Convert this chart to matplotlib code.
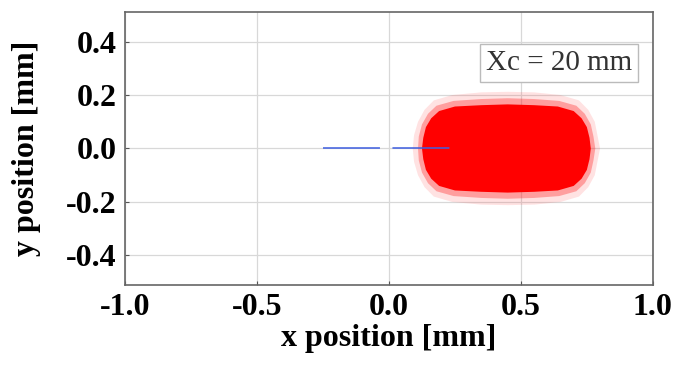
import matplotlib
matplotlib.use('Agg')
import matplotlib.pyplot as plt

# beam spot outline (dense core, mid band and faint halo), in mm
core_x = [0.125, 0.13, 0.14, 0.16, 0.19, 0.25, 0.35, 0.45, 0.55, 0.64, 0.70, 0.73, 0.75, 0.76, 0.765,
          0.76, 0.75, 0.73, 0.70, 0.64, 0.55, 0.45, 0.35, 0.25, 0.19, 0.16, 0.14, 0.13, 0.125]
core_y = [0.0, 0.04, 0.08, 0.113, 0.14, 0.157, 0.162, 0.165, 0.162, 0.157, 0.14, 0.113, 0.08, 0.04, 0.0,
          -0.04, -0.08, -0.113, -0.14, -0.157, -0.162, -0.165, -0.162, -0.157, -0.14, -0.113, -0.08, -0.04, 0.0]
mid_x = [0.11, 0.113, 0.125, 0.148, 0.18, 0.245, 0.35, 0.45, 0.55, 0.645, 0.71, 0.742, 0.765, 0.775, 0.782,
         0.775, 0.765, 0.742, 0.71, 0.645, 0.55, 0.45, 0.35, 0.245, 0.18, 0.148, 0.125, 0.113, 0.11]
mid_y = [0.0, 0.045, 0.09, 0.13, 0.16, 0.178, 0.185, 0.188, 0.185, 0.178, 0.16, 0.13, 0.09, 0.045, 0.0,
         -0.045, -0.09, -0.13, -0.16, -0.178, -0.185, -0.188, -0.185, -0.178, -0.16, -0.13, -0.09, -0.045, 0.0]
halo_x = [0.09, 0.095, 0.11, 0.135, 0.17, 0.24, 0.35, 0.45, 0.55, 0.65, 0.72, 0.755, 0.78, 0.79, 0.80,
          0.79, 0.78, 0.755, 0.72, 0.65, 0.55, 0.45, 0.35, 0.24, 0.17, 0.135, 0.11, 0.095, 0.09]
halo_y = [0.0, 0.05, 0.10, 0.145, 0.18, 0.20, 0.21, 0.212, 0.21, 0.20, 0.18, 0.145, 0.10, 0.05, 0.0,
          -0.05, -0.10, -0.145, -0.18, -0.20, -0.21, -0.212, -0.21, -0.20, -0.18, -0.145, -0.10, -0.05, 0.0]

# reference axis (blue dashed)
axis_x = [-0.25, 0.25]
axis_y = [0.0, 0.0]

xticks = [-1.0, -0.5, 0.0, 0.5, 1.0]
yticks = [-0.4, -0.2, 0.0, 0.2, 0.4]
label_text = 'Xc = 20 mm'

plt.rcParams['font.family'] = ['Liberation Serif', 'DejaVu Serif']
plt.rcParams['lines.scale_dashes'] = False

fig = plt.figure(figsize=(6.73, 3.68), dpi=100)
ax = fig.add_axes([0.186, 0.226, 0.784, 0.741])

ax.grid(True, color='#d8d8d8', linewidth=0.9)
ax.set_axisbelow(True)

ax.fill(halo_x, halo_y, color='#ff4040', alpha=0.15, lw=0)
ax.fill(mid_x, mid_y, color='#ff2020', alpha=0.35, lw=0)
ax.fill(core_x, core_y, color='#ff0000', lw=0)
ax.plot(axis_x, axis_y, color='#4060e0', lw=1.4, dashes=(41, 9), alpha=0.8, zorder=5)

ax.set_xlim(-1.0, 1.0)
ax.set_ylim(-0.51, 0.51)
ax.set_xticks(xticks)
ax.set_yticks(yticks)
ax.set_xticklabels(['%.1f' % v for v in xticks], fontsize=23, fontweight='bold')
ax.set_yticklabels(['%.1f' % v for v in yticks], fontsize=23, fontweight='bold')
ax.tick_params(direction='in', length=3, color='#555555', pad=6)
for s in ax.spines.values():
    s.set_color('#666666')
    s.set_linewidth(1.2)

ax.set_xlabel('x position [mm]', fontsize=23, fontweight='bold', labelpad=1)
ax.set_ylabel('y position [mm]', fontsize=23, fontweight='bold', labelpad=18)

ax.text(0.822, 0.813, label_text, transform=ax.transAxes, ha='center', va='center',
        fontsize=21, color='#333333',
        bbox=dict(boxstyle='square,pad=0.2', fc='white', ec='#bbbbbb', lw=1))

fig.savefig('out.png', dpi=100)
